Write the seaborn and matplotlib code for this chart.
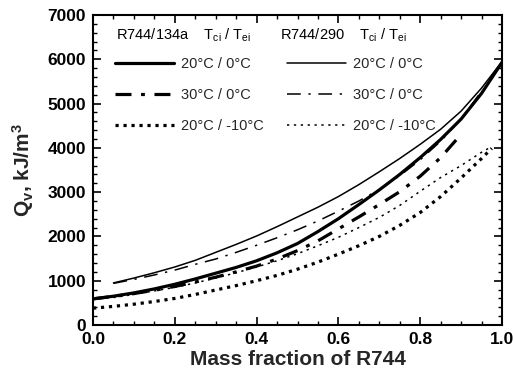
import matplotlib
matplotlib.use("Agg")
import matplotlib.pyplot as plt
import seaborn as sns
from matplotlib.ticker import MultipleLocator

sns.set_theme(style="ticks")
plt.rcParams['font.family'] = ['Liberation Sans', 'DejaVu Sans']
plt.rcParams['mathtext.default'] = 'regular'

# R744/134a (thick lines)
x_a_20_0 = [0.0, 0.05, 0.1, 0.15, 0.2, 0.25, 0.3, 0.35, 0.4, 0.45, 0.5,
            0.55, 0.6, 0.65, 0.7, 0.75, 0.8, 0.85, 0.9, 0.95, 1.0]
q_a_20_0 = [590, 650, 725, 815, 920, 1040, 1170, 1300, 1450, 1630, 1840,
            2110, 2400, 2720, 3050, 3400, 3780, 4190, 4650, 5230, 5930]
x_a_30_0 = [0.0, 0.05, 0.1, 0.15, 0.2, 0.25, 0.3, 0.35, 0.4, 0.45, 0.5,
            0.55, 0.6, 0.65, 0.7, 0.75, 0.8, 0.85, 0.89]
q_a_30_0 = [590, 645, 710, 785, 870, 970, 1080, 1200, 1330, 1490, 1680,
            1900, 2170, 2440, 2720, 3010, 3360, 3780, 4200]
x_a_20_m10 = [0.0, 0.05, 0.1, 0.15, 0.2, 0.25, 0.3, 0.35, 0.4, 0.45, 0.5,
              0.55, 0.6, 0.65, 0.7, 0.75, 0.8, 0.85, 0.9, 0.95, 0.975]
q_a_20_m10 = [380, 420, 470, 530, 600, 690, 790, 890, 1000, 1120, 1260,
              1420, 1600, 1790, 2000, 2250, 2540, 2900, 3320, 3760, 3990]

# R744/290 (thin lines)
x_b_20_0 = [0.05, 0.1, 0.15, 0.2, 0.25, 0.3, 0.35, 0.4, 0.45, 0.5,
            0.55, 0.6, 0.65, 0.7, 0.75, 0.8, 0.85, 0.9, 0.95, 1.0]
q_b_20_0 = [950, 1060, 1180, 1310, 1460, 1640, 1820, 2010, 2220, 2440,
            2660, 2900, 3170, 3460, 3760, 4080, 4420, 4830, 5350, 5950]
x_b_30_0 = [0.05, 0.1, 0.15, 0.2, 0.25, 0.3, 0.35, 0.4, 0.45, 0.5,
            0.55, 0.6, 0.65, 0.7, 0.75, 0.8, 0.85, 0.9, 0.95]
q_b_30_0 = [940, 1030, 1130, 1240, 1370, 1490, 1640, 1800, 1970, 2150,
            2350, 2570, 2800, 3060, 3370, 3730, 4150, 4650, 5280]
x_b_20_m10 = [0.05, 0.1, 0.15, 0.2, 0.25, 0.3, 0.35, 0.4, 0.45, 0.5,
              0.55, 0.6, 0.65, 0.7, 0.75, 0.8, 0.85, 0.9, 0.95, 0.975]
q_b_20_m10 = [620, 690, 770, 850, 950, 1060, 1180, 1310, 1450, 1610,
              1790, 1980, 2200, 2430, 2700, 3020, 3330, 3600, 3900, 4030]

labels = ["20\u00b0C / 0\u00b0C", "30\u00b0C / 0\u00b0C", "20\u00b0C / -10\u00b0C"]
headers = ["R744/134a    T$_{ci}$ / T$_{ei}$", "R744/290    T$_{ci}$ / T$_{ei}$"]

fig = plt.figure(figsize=(5.13, 3.80), dpi=100)
ax = fig.add_axes([93/513, 55/380, 409/513, 310/380])

thick = 2.3
thin = 1.1
h1 = []
h2 = []
series_a = [(x_a_20_0, q_a_20_0, '-'), (x_a_30_0, q_a_30_0, (0, (5, 3, 1.2, 3))),
            (x_a_20_m10, q_a_20_m10, (0, (1.0, 1.5)))]
series_b = [(x_b_20_0, q_b_20_0, '-'), (x_b_30_0, q_b_30_0, (0, (9, 5, 1.5, 5))),
            (x_b_20_m10, q_b_20_m10, (0, (1.5, 3.0)))]
for xs, ys, ls in series_a:
    sns.lineplot(x=xs, y=ys, ax=ax, color='black', linewidth=thick, linestyle=ls)
    h1.append(ax.lines[-1])
for xs, ys, ls in series_b:
    sns.lineplot(x=xs, y=ys, ax=ax, color='black', linewidth=thin, linestyle=ls)
    h2.append(ax.lines[-1])

ax.set_xlim(0, 1.0)
ax.set_ylim(0, 7000)
ax.xaxis.set_major_locator(MultipleLocator(0.2))
ax.xaxis.set_minor_locator(MultipleLocator(0.05))
ax.yaxis.set_major_locator(MultipleLocator(1000))
ax.yaxis.set_minor_locator(MultipleLocator(200))
ax.xaxis.set_major_formatter(plt.FuncFormatter(lambda v, p: f"{v:.1f}"))
ax.tick_params(which='both', direction='in', top=True, right=True, colors='black')
ax.tick_params(which='major', length=6, width=1.2, labelsize=12.5, pad=5)
ax.tick_params(which='minor', length=3, width=1)
for lbl in ax.get_xticklabels() + ax.get_yticklabels():
    lbl.set_fontweight('bold')
for s in ax.spines.values():
    s.set_color('black')
    s.set_linewidth(1.5)

ax.set_xlabel("Mass fraction of R744", fontsize=15, fontweight='bold', labelpad=2)
ax.set_ylabel("Q$_{v}$, kJ/m$^{3}$", fontsize=15, fontweight='bold', labelpad=8)

common = dict(loc='upper left', frameon=False, handlelength=4.0, fontsize=10.5,
              labelspacing=1.15, handletextpad=0.5, borderaxespad=0, borderpad=0)
leg1 = ax.legend(h1, labels, bbox_to_anchor=(0.055, 0.863), **common)
ax.add_artist(leg1)
leg2 = ax.legend(h2, labels, bbox_to_anchor=(0.475, 0.863), **common)

ax.text(0.056, 0.935, headers[0], transform=ax.transAxes, fontsize=10.5,
        va='center', ha='left', color='black')
ax.text(0.457, 0.935, headers[1], transform=ax.transAxes, fontsize=10.5,
        va='center', ha='left', color='black')

fig.savefig("out.png", dpi=100)
